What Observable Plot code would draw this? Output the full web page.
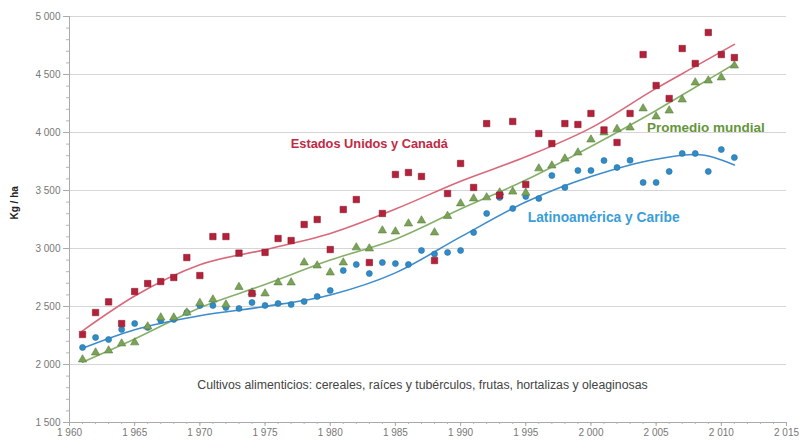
<!DOCTYPE html>
<html>
<head>
<meta charset="utf-8">
<script src="https://cdn.jsdelivr.net/npm/d3@7"></script>
<script src="https://cdn.jsdelivr.net/npm/@observablehq/plot@0.6"></script>
<style>
  html, body { margin: 0; padding: 0; background: #ffffff; }
  #chart svg { font-family: "Liberation Sans", Arial, sans-serif; }
</style>
</head>
<body>
<div id="chart"></div>
<script>
const years = d3.range(1961, 2012);

const usCanada = [2259, 2448, 2540, 2353, 2629, 2698, 2715, 2750, 2922, 2767,
  3103, 3103, 2960, 2612, 2966, 3086, 3069, 3207, 3250, 2991,
  3336, 3422, 2879, 3302, 3638, 3655, 3621, 2896, 3474, 3733,
  3526, 4077, 3460, 4095, 3552, 3991, 3905, 4077, 4069, 4164,
  4022, 3914, 4164, 4672, 4405, 4293, 4724, 4595, 4862, 4672, 4646];

const world = [2043, 2103, 2120, 2181, 2190, 2327, 2405, 2405, 2448, 2530,
  2560, 2517, 2668, 2620, 2612, 2707, 2707, 2879, 2853, 2793,
  2879, 3009, 3000, 3155, 3146, 3215, 3241, 3138, 3280, 3388,
  3431, 3440, 3483, 3490, 3480, 3690, 3715, 3775, 3827, 3939,
  4000, 4030, 4043, 4207, 4138, 4189, 4284, 4431, 4448, 4474, 4577];

const latam = [2147, 2233, 2215, 2302, 2353, 2319, 2379, 2388, 2448, 2509,
  2509, 2491, 2483, 2534, 2509, 2526, 2517, 2543, 2586, 2638,
  2810, 2862, 2784, 2879, 2870, 2862, 2983, 2952, 2966, 2983,
  3138, 3302, 3440, 3345, 3448, 3431, 3629, 3526, 3672, 3672,
  3758, 3698, 3760, 3569, 3569, 3664, 3819, 3819, 3664, 3853, 3784];

// fitted trend curves
const trendYears = [1961, 1965, 1970, 1975, 1980, 1985, 1990, 1995, 2000, 2005, 2008, 2011];
const trendUsCanada = [2290, 2590, 2860, 2990, 3130, 3340, 3580, 3790, 4040, 4380, 4570, 4760];
const trendWorld = [2020, 2220, 2490, 2690, 2900, 3080, 3340, 3590, 3880, 4190, 4390, 4590];
const trendLatam = [2140, 2300, 2420, 2500, 2600, 2790, 3100, 3400, 3620, 3770, 3810, 3720];

const xTicks = d3.range(1960, 2016, 5);
const yTicks = d3.range(1500, 5001, 500);

const seriesNames = ["Estados Unidos y Canadá", "Promedio mundial", "Latinoamérica y Caribe"];
const caption = "Cultivos alimenticios: cereales, raíces y tubérculos, frutas, hortalizas y oleaginosas";
const yLabel = "Kg / ha";

const fmt = d => String(d).replace(/\B(?=(\d{3})+(?!\d))/g, " ");

const pts = (vals) => years.map((y, i) => ({year: y, value: vals[i]}));
const trend = (vals) => trendYears.map((y, i) => ({year: y, value: vals[i]}));

const RED = "#b3213a", RED_L = "#d9687a", RED_T = "#c02a44";
const GRN = "#7aa356", GRN_L = "#86b06a", GRN_T = "#66953c";
const BLU = "#2e8cc9", BLU_L = "#3d8ccc", BLU_T = "#3a9ed8";

const chart = Plot.plot({
  width: 804,
  height: 443,
  marginLeft: 69,
  marginRight: 18,
  marginTop: 16,
  marginBottom: 21,
  style: {background: "#ffffff", fontFamily: "Liberation Sans, Arial, sans-serif"},
  x: {domain: [1960, 2015], label: null},
  y: {domain: [1500, 5000], label: null},
  marks: [
    Plot.gridY(yTicks, {stroke: "#d6d6d6", strokeOpacity: 1, strokeWidth: 1.2}),
    Plot.ruleX([1960], {y1: 1500, y2: 5000, stroke: "#aaaaaa"}),
    Plot.ruleY([1500], {x1: 1960, x2: 2015, stroke: "#aaaaaa"}),
    Plot.axisY(d3.range(1500, 5001, 100), {tickSize: 3, text: null, stroke: "#b5b5b5", label: null}),
    Plot.axisY(yTicks, {tickSize: 6, tickFormat: fmt, fill: "#777", stroke: "#aaa", fontSize: 10, label: null, tickPadding: 3}),
    Plot.axisX(d3.range(1960, 2016, 1), {tickSize: 2, text: null, stroke: "#b5b5b5", label: null}),
    Plot.axisX(xTicks, {tickSize: 4, tickFormat: fmt, fill: "#777", stroke: "#aaa", fontSize: 10, label: null, tickPadding: 2}),
    Plot.text([yLabel], {frameAnchor: "left", dx: -55, rotate: -90, fontWeight: "bold", fontSize: 10, fill: "#222"}),

    Plot.line(trend(trendUsCanada), {x: "year", y: "value", stroke: RED_L, strokeWidth: 1.6, curve: "monotone-x"}),
    Plot.line(trend(trendWorld), {x: "year", y: "value", stroke: GRN_L, strokeWidth: 1.6, curve: "monotone-x"}),
    Plot.line(trend(trendLatam), {x: "year", y: "value", stroke: BLU_L, strokeWidth: 1.6, curve: "monotone-x"}),

    Plot.dot(pts(latam), {x: "year", y: "value", symbol: "circle", r: 3, fill: BLU, stroke: "#2a6f9e", strokeWidth: 0.6}),
    Plot.dot(pts(world), {x: "year", y: "value", symbol: "triangle", r: 3.1, fill: GRN, stroke: "#5b7d42", strokeWidth: 0.6}),
    Plot.dot(pts(usCanada), {x: "year", y: "value", symbol: "square", r: 3.6, fill: RED, stroke: "#8a1a2c", strokeWidth: 0.6}),

    Plot.text([seriesNames[0]], {x: 1983, y: 3905, fill: RED_T, fontWeight: "bold", fontSize: 12.8}),
    Plot.text([seriesNames[1]], {x: 2004.3, y: 4043, textAnchor: "start", fill: GRN_T, fontWeight: "bold", fontSize: 13.5}),
    Plot.text([seriesNames[2]], {x: 1995.15, y: 3267, textAnchor: "start", fill: BLU_T, fontWeight: "bold", fontSize: 13.8}),
    Plot.text([caption], {x: 1969.8, y: 1819, textAnchor: "start", fill: "#444", fontSize: 12.3})
  ]
});

document.getElementById("chart").appendChild(chart);
</script>
</body>
</html>
